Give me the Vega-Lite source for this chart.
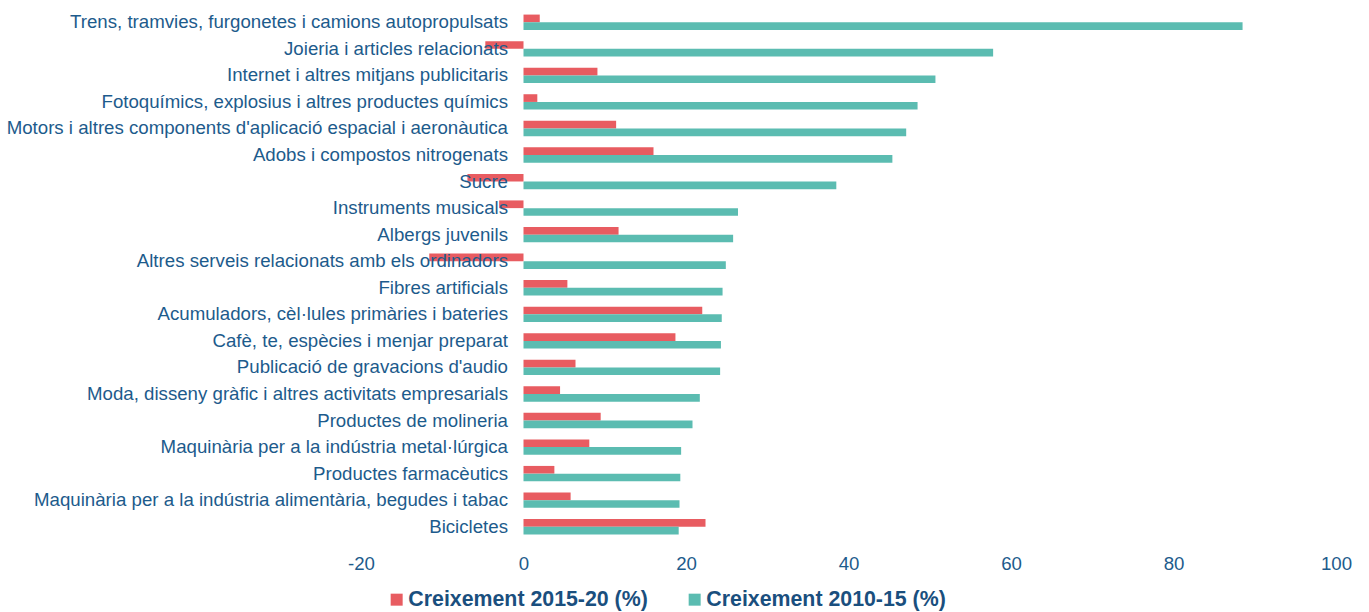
{
  "$schema": "https://vega.github.io/schema/vega-lite/v6.json",
  "width": 975,
  "height": 531,
  "autosize": {"type": "none"},
  "padding": {"left": 361, "top": 9, "right": 33, "bottom": 72},
  "background": "white",
  "config": {
    "view": {"stroke": null},
    "font": "Liberation Sans"
  },
  "data": {
    "values": [
      {"cat": "Trens, tramvies, furgonetes i camions autopropulsats", "serie": "Creixement 2015-20 (%)", "v": 2.0},
      {"cat": "Trens, tramvies, furgonetes i camions autopropulsats", "serie": "Creixement 2010-15 (%)", "v": 88.5},
      {"cat": "Joieria i articles relacionats", "serie": "Creixement 2015-20 (%)", "v": -4.7},
      {"cat": "Joieria i articles relacionats", "serie": "Creixement 2010-15 (%)", "v": 57.8},
      {"cat": "Internet i altres mitjans publicitaris", "serie": "Creixement 2015-20 (%)", "v": 9.1},
      {"cat": "Internet i altres mitjans publicitaris", "serie": "Creixement 2010-15 (%)", "v": 50.7},
      {"cat": "Fotoquímics, explosius i altres productes químics", "serie": "Creixement 2015-20 (%)", "v": 1.7},
      {"cat": "Fotoquímics, explosius i altres productes químics", "serie": "Creixement 2010-15 (%)", "v": 48.5},
      {"cat": "Motors i altres components d'aplicació espacial i aeronàutica", "serie": "Creixement 2015-20 (%)", "v": 11.4},
      {"cat": "Motors i altres components d'aplicació espacial i aeronàutica", "serie": "Creixement 2010-15 (%)", "v": 47.1},
      {"cat": "Adobs i compostos nitrogenats", "serie": "Creixement 2015-20 (%)", "v": 16.0},
      {"cat": "Adobs i compostos nitrogenats", "serie": "Creixement 2010-15 (%)", "v": 45.4},
      {"cat": "Sucre", "serie": "Creixement 2015-20 (%)", "v": -6.9},
      {"cat": "Sucre", "serie": "Creixement 2010-15 (%)", "v": 38.5},
      {"cat": "Instruments musicals", "serie": "Creixement 2015-20 (%)", "v": -3.0},
      {"cat": "Instruments musicals", "serie": "Creixement 2010-15 (%)", "v": 26.4},
      {"cat": "Albergs juvenils", "serie": "Creixement 2015-20 (%)", "v": 11.7},
      {"cat": "Albergs juvenils", "serie": "Creixement 2010-15 (%)", "v": 25.8},
      {"cat": "Altres serveis relacionats amb els ordinadors", "serie": "Creixement 2015-20 (%)", "v": -11.6},
      {"cat": "Altres serveis relacionats amb els ordinadors", "serie": "Creixement 2010-15 (%)", "v": 24.9},
      {"cat": "Fibres artificials", "serie": "Creixement 2015-20 (%)", "v": 5.4},
      {"cat": "Fibres artificials", "serie": "Creixement 2010-15 (%)", "v": 24.5},
      {"cat": "Acumuladors, cèl·lules primàries i bateries", "serie": "Creixement 2015-20 (%)", "v": 22.0},
      {"cat": "Acumuladors, cèl·lules primàries i bateries", "serie": "Creixement 2010-15 (%)", "v": 24.4},
      {"cat": "Cafè, te, espècies i menjar preparat", "serie": "Creixement 2015-20 (%)", "v": 18.7},
      {"cat": "Cafè, te, espècies i menjar preparat", "serie": "Creixement 2010-15 (%)", "v": 24.3},
      {"cat": "Publicació de gravacions d'audio", "serie": "Creixement 2015-20 (%)", "v": 6.4},
      {"cat": "Publicació de gravacions d'audio", "serie": "Creixement 2010-15 (%)", "v": 24.2},
      {"cat": "Moda, disseny gràfic i altres activitats empresarials", "serie": "Creixement 2015-20 (%)", "v": 4.5},
      {"cat": "Moda, disseny gràfic i altres activitats empresarials", "serie": "Creixement 2010-15 (%)", "v": 21.7},
      {"cat": "Productes de molineria", "serie": "Creixement 2015-20 (%)", "v": 9.5},
      {"cat": "Productes de molineria", "serie": "Creixement 2010-15 (%)", "v": 20.8},
      {"cat": "Maquinària per a la indústria metal·lúrgica", "serie": "Creixement 2015-20 (%)", "v": 8.1},
      {"cat": "Maquinària per a la indústria metal·lúrgica", "serie": "Creixement 2010-15 (%)", "v": 19.4},
      {"cat": "Productes farmacèutics", "serie": "Creixement 2015-20 (%)", "v": 3.8},
      {"cat": "Productes farmacèutics", "serie": "Creixement 2010-15 (%)", "v": 19.3},
      {"cat": "Maquinària per a la indústria alimentària, begudes i tabac", "serie": "Creixement 2015-20 (%)", "v": 5.8},
      {"cat": "Maquinària per a la indústria alimentària, begudes i tabac", "serie": "Creixement 2010-15 (%)", "v": 19.2},
      {"cat": "Bicicletes", "serie": "Creixement 2015-20 (%)", "v": 22.4},
      {"cat": "Bicicletes", "serie": "Creixement 2010-15 (%)", "v": 19.1}
    ]
  },
  "mark": {"type": "bar"},
  "encoding": {
    "y": {
      "field": "cat",
      "type": "nominal",
      "sort": null,
      "scale": {"paddingInner": 0.42, "paddingOuter": 0.21},
      "axis": {
        "title": null,
        "orient": "left",
        "offset": -162.5,
        "domain": false,
        "ticks": false,
        "tickSize": 0,
        "labelPadding": 16,
        "labelFont": "Liberation Sans",
        "labelFontSize": 18.67,
        "labelColor": "#1d5b8c",
        "labelLimit": 0,
        "zindex": 1
      }
    },
    "yOffset": {
      "field": "serie",
      "type": "nominal",
      "sort": ["Creixement 2015-20 (%)", "Creixement 2010-15 (%)"]
    },
    "x": {
      "field": "v",
      "type": "quantitative",
      "scale": {"domain": [-20, 100], "nice": false, "zero": false},
      "axis": {
        "title": null,
        "values": [-20, 0, 20, 40, 60, 80, 100],
        "labelExpr": "datum.value < 0 ? '-' + abs(datum.value) : '' + datum.value",
        "grid": false,
        "domain": false,
        "ticks": false,
        "tickSize": 0,
        "labelPadding": 14,
        "labelFont": "Liberation Sans",
        "labelFontSize": 18.67,
        "labelColor": "#1d5b8c",
        "labelFlush": false
      }
    },
    "color": {
      "field": "serie",
      "type": "nominal",
      "sort": ["Creixement 2015-20 (%)", "Creixement 2010-15 (%)"],
      "scale": {
        "domain": ["Creixement 2015-20 (%)", "Creixement 2010-15 (%)"],
        "range": ["#e85c61", "#5bbcb1"]
      },
      "legend": {
        "title": null,
        "orient": "none",
        "direction": "horizontal",
        "legendX": 25,
        "legendY": 580,
        "padding": 0,
        "symbolType": "square",
        "symbolSize": 144,
        "symbolStrokeWidth": 0,
        "labelOffset": 1,
        "columnPadding": 36,
        "labelFont": "Liberation Sans",
        "labelFontSize": 21.33,
        "labelFontWeight": "bold",
        "labelColor": "#1a4f7e",
        "labelLimit": 0
      }
    }
  }
}
